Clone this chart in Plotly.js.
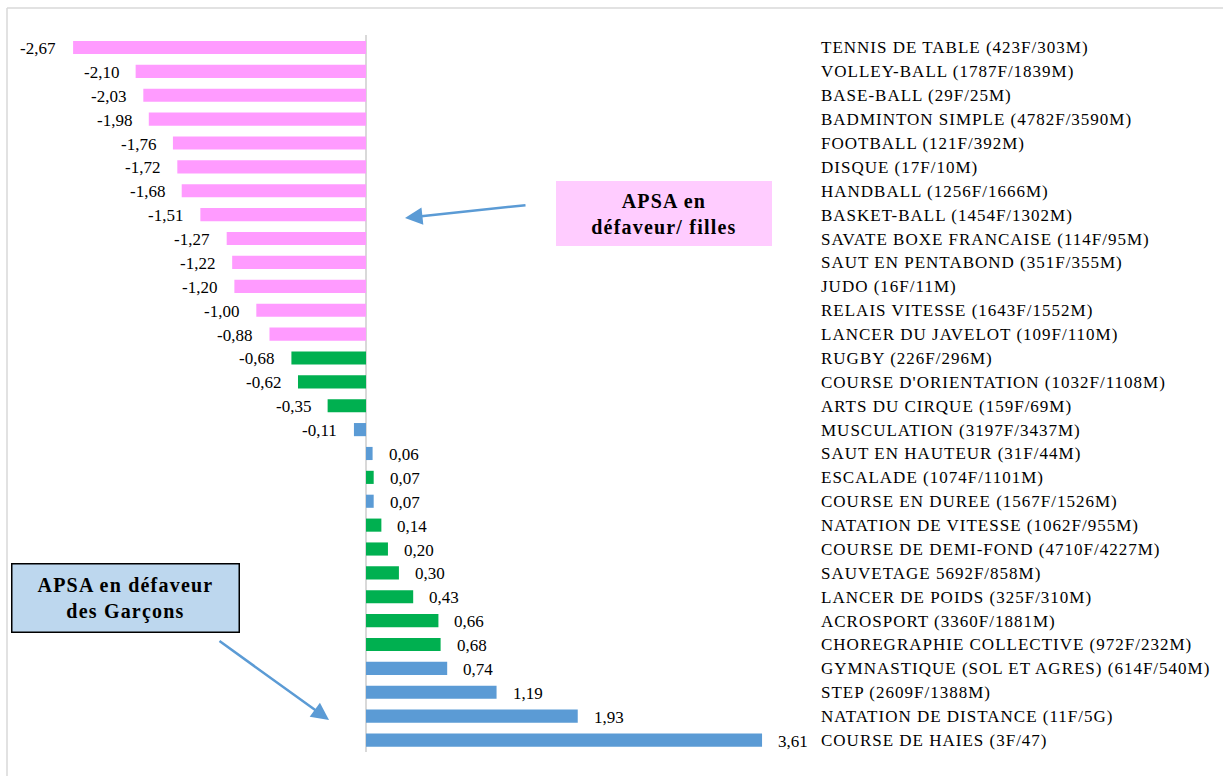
<!DOCTYPE html>
<html>
<head>
<meta charset="utf-8">
<script src="https://cdn.plot.ly/plotly-3.0.1.min.js"></script>
<style>html,body{margin:0;padding:0;background:#fff;}#chart{width:1223px;height:776px;}
.ytick text{letter-spacing:1px;}
</style>
</head>
<body>
<div id="chart"></div>
<script>
const categories = [
  "TENNIS DE TABLE (423F/303M)",
  "VOLLEY-BALL (1787F/1839M)",
  "BASE-BALL (29F/25M)",
  "BADMINTON SIMPLE (4782F/3590M)",
  "FOOTBALL (121F/392M)",
  "DISQUE (17F/10M)",
  "HANDBALL (1256F/1666M)",
  "BASKET-BALL (1454F/1302M)",
  "SAVATE BOXE FRANCAISE (114F/95M)",
  "SAUT EN PENTABOND (351F/355M)",
  "JUDO (16F/11M)",
  "RELAIS VITESSE (1643F/1552M)",
  "LANCER DU JAVELOT (109F/110M)",
  "RUGBY (226F/296M)",
  "COURSE D'ORIENTATION (1032F/1108M)",
  "ARTS DU CIRQUE (159F/69M)",
  "MUSCULATION (3197F/3437M)",
  "SAUT EN HAUTEUR (31F/44M)",
  "ESCALADE (1074F/1101M)",
  "COURSE EN DUREE (1567F/1526M)",
  "NATATION DE VITESSE (1062F/955M)",
  "COURSE DE DEMI-FOND (4710F/4227M)",
  "SAUVETAGE 5692F/858M)",
  "LANCER DE POIDS (325F/310M)",
  "ACROSPORT (3360F/1881M)",
  "CHOREGRAPHIE COLLECTIVE (972F/232M)",
  "GYMNASTIQUE (SOL ET AGRES) (614F/540M)",
  "STEP (2609F/1388M)",
  "NATATION DE DISTANCE (11F/5G)",
  "COURSE DE HAIES (3F/47)"
];
const values = [
  -2.67, -2.10, -2.03, -1.98, -1.76, -1.72, -1.68, -1.51, -1.27, -1.22,
  -1.20, -1.00, -0.88, -0.68, -0.62, -0.35, -0.11, 0.06, 0.07, 0.07,
  0.14, 0.20, 0.30, 0.43, 0.66, 0.68, 0.74, 1.19, 1.93, 3.61
];
// group of each bar: F = défaveur filles (pink), V = green, B = blue
const groups = [
  "F","F","F","F","F","F","F","F","F","F",
  "F","F","F","V","V","V","B","B","V","B",
  "V","V","V","V","V","V","B","B","B","B"
];
const groupColors = {F: "#FF9BFF", V: "#00B050", B: "#5B9BD5"};

const FONT = "'Liberation Serif', 'Times New Roman', serif";
const L = 20, R = 818, T = 35, B = 752, W = 1223, H = 776;
const px = p => (p - L) / (R - L);
const py = p => 1 - (p - T) / (B - T);

const labels = values.map(v => v.toFixed(2).replace('.', ','));

const trace = {
  type: 'bar',
  orientation: 'h',
  x: values,
  y: categories,
  marker: {color: groups.map(g => groupColors[g])},
  hoverinfo: 'x+y'
};

const annotations = values.map((v, i) => ({
  x: v, y: categories[i], xref: 'x', yref: 'y',
  text: labels[i], showarrow: false,
  xanchor: v < 0 ? 'right' : 'left',
  xshift: v < 0 ? -15 : 14,
  yshift: -1,
  font: {family: FONT, size: 17, color: '#000'}
}));

annotations.push({
  xref: 'paper', yref: 'paper', x: px(664), y: py(213.5),
  xanchor: 'center', yanchor: 'middle',
  text: '<b>APSA en<br>défaveur/ filles</b>', showarrow: false,
  bgcolor: '#FFCCFF', borderwidth: 0, borderpad: 0, width: 216, height: 65,
  font: {family: FONT, size: 20, color: '#000'}
});
annotations.push({
  xref: 'paper', yref: 'paper', x: px(125.5), y: py(598),
  xanchor: 'center', yanchor: 'middle',
  text: '<b>APSA en défaveur<br>des Garçons</b>', showarrow: false,
  bgcolor: '#BDD7EE', bordercolor: '#000', borderwidth: 1.5, borderpad: 0,
  width: 226, height: 67,
  font: {family: FONT, size: 20, color: '#000'}
});
annotations.push({
  xref: 'paper', yref: 'paper', x: px(405), y: py(218),
  text: '', showarrow: true, ax: 122, ay: -13,
  arrowcolor: '#5B9BD5', arrowwidth: 2.5, arrowhead: 2, arrowsize: 1.4
});
annotations.push({
  xref: 'paper', yref: 'paper', x: px(329), y: py(720),
  text: '', showarrow: true, ax: -111, ay: -80,
  arrowcolor: '#5B9BD5', arrowwidth: 2.5, arrowhead: 2, arrowsize: 1.4
});

const layout = {
  width: W, height: H,
  margin: {l: L, r: W - R, t: T, b: H - B, pad: 0},
  paper_bgcolor: '#fff', plot_bgcolor: '#fff',
  showlegend: false,
  bargap: 0.45,
  xaxis: {
    range: [-3.154, 4.12],
    showgrid: false, showticklabels: false, ticks: '',
    zeroline: true, zerolinecolor: '#D9D9D9', zerolinewidth: 2,
    showline: false, fixedrange: true
  },
  yaxis: {
    type: 'category', autorange: 'reversed',
    side: 'right', ticks: '', showgrid: false, zeroline: false, showline: false,
    tickfont: {family: FONT, size: 17, color: '#000'},
    ticklabelstandoff: 2, fixedrange: true
  },
  annotations: annotations,
  shapes: [
    {type: 'line', xref: 'paper', yref: 'paper', x0: px(7), x1: px(1223), y0: py(8), y1: py(8),
     line: {color: '#D9D9D9', width: 1.5}},
    {type: 'line', xref: 'paper', yref: 'paper', x0: px(7), x1: px(7), y0: py(8), y1: py(776),
     line: {color: '#D9D9D9', width: 1.5}}
  ]
};

Plotly.newPlot('chart', [trace], layout, {displayModeBar: false, staticPlot: true}).then(gd => {
  gd.querySelectorAll('.annotation-text').forEach(t => {
    if (parseFloat(t.style.fontSize) === 20) t.style.letterSpacing = '1.2px';
  });
});
</script>
</body>
</html>
